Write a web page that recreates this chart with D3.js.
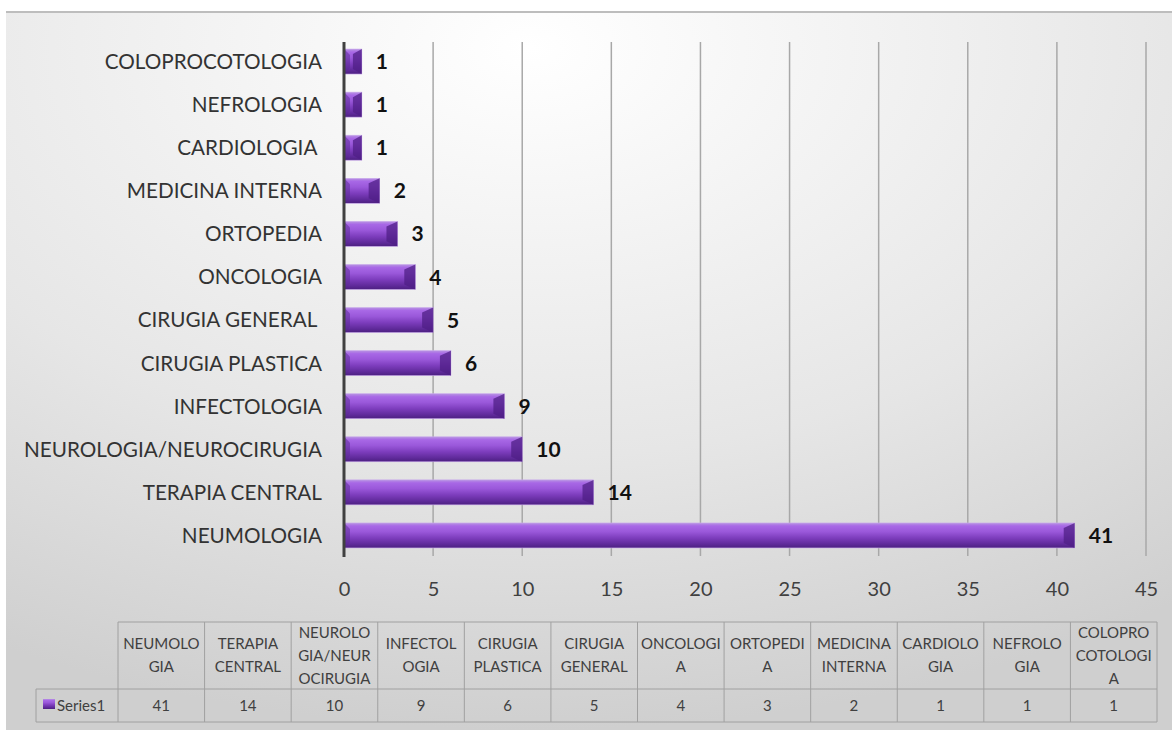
<!DOCTYPE html>
<html>
<head>
<meta charset="utf-8">
<script src="https://cdn.jsdelivr.net/npm/d3@7"></script>
<style>
  body { margin: 0; background: #fff; }
  svg text { font-family: Lato, "Open Sans", sans-serif; }
</style>
</head>
<body>
<script>
// data, in table order (bottom bar first)
var categories = ["NEUMOLOGIA", "TERAPIA CENTRAL", "NEUROLOGIA/NEUROCIRUGIA", "INFECTOLOGIA",
    "CIRUGIA PLASTICA", "CIRUGIA GENERAL ", "ONCOLOGIA", "ORTOPEDIA", "MEDICINA INTERNA",
    "CARDIOLOGIA ", "NEFROLOGIA", "COLOPROCOTOLOGIA"];
var values = [41, 14, 10, 9, 6, 5, 4, 3, 2, 1, 1, 1];
var xTicks = [0, 5, 10, 15, 20, 25, 30, 35, 40, 45];
var tableHeaders = [["NEUMOLO", "GIA"], ["TERAPIA", "CENTRAL"], ["NEUROLO", "GIA/NEUR", "OCIRUGIA"],
    ["INFECTOL", "OGIA"], ["CIRUGIA", "PLASTICA"], ["CIRUGIA", "GENERAL"], ["ONCOLOGI", "A"],
    ["ORTOPEDI", "A"], ["MEDICINA", "INTERNA"], ["CARDIOLO", "GIA"], ["NEFROLO", "GIA"],
    ["COLOPRO", "COTOLOGI", "A"]];
var seriesName = "Series1";

var w = 1172, h = 742;
var svg = d3.select("body").append("svg").attr("width", w).attr("height", h);
var defs = svg.append("defs");

var bg = defs.append("radialGradient").attr("id", "bg")
    .attr("cx", "0.45").attr("cy", "0.05").attr("r", "0.95");
bg.append("stop").attr("offset", "0%").attr("stop-color", "#ffffff");
bg.append("stop").attr("offset", "60%").attr("stop-color", "#e6e6e6");
bg.append("stop").attr("offset", "100%").attr("stop-color", "#cfcfcf");

var barGrad = defs.append("linearGradient").attr("id", "bar")
    .attr("x1", 0).attr("y1", 0).attr("x2", 0).attr("y2", 1);
[["0%", "#b894e2"], ["12%", "#a868e6"], ["35%", "#9a58da"], ["60%", "#7d3dbd"],
 ["85%", "#5f2a9a"], ["100%", "#4c2080"]].forEach(function (s) {
    barGrad.append("stop").attr("offset", s[0]).attr("stop-color", s[1]);
});

// chart area
svg.append("rect").attr("x", 6).attr("y", 12).attr("width", w - 6).attr("height", 718)
    .attr("fill", "url(#bg)");
svg.append("line").attr("x1", 6).attr("x2", w).attr("y1", 12).attr("y2", 12)
    .attr("stroke", "#bdbdbd").attr("stroke-width", 2);

var x = d3.scaleLinear().domain([0, 45]).range([344, 1146]);
var y = d3.scaleBand().domain(categories.slice().reverse()).range([40, 557])
    .paddingInner(0.42).paddingOuter(0.21);

// gridlines
svg.append("g").selectAll("line").data(xTicks.slice(1)).enter().append("line")
    .attr("x1", function (d) { return x(d); }).attr("x2", function (d) { return x(d); })
    .attr("y1", 42).attr("y2", 556)
    .attr("stroke", "#a8a8a8").attr("stroke-width", 1.5);

// x tick labels
var xAxis = svg.append("g").attr("transform", "translate(0,582)")
    .call(d3.axisBottom(x).tickValues(xTicks).tickSize(0).tickPadding(0));
xAxis.select(".domain").remove();
xAxis.selectAll("text").attr("font-size", 20).attr("fill", "#404040")
    .style("font-family", "Lato, sans-serif");

// category labels
svg.append("g").selectAll("text").data(categories).enter().append("text")
    .attr("x", 322).attr("y", function (d) { return y(d) + y.bandwidth() / 2; })
    .attr("dy", "0.36em").attr("text-anchor", "end")
    .attr("font-size", 20.7).attr("fill", "#333")
    .style("white-space", "pre")
    .text(function (d) { return d; });

// bars
var bars = svg.append("g").selectAll("g").data(values).enter().append("g");
bars.append("rect")
    .attr("x", x(0)).attr("y", function (d, i) { return y(categories[i]); })
    .attr("width", function (d) { return x(d) - x(0); })
    .attr("height", y.bandwidth())
    .attr("fill", "url(#bar)").attr("stroke", "#c9a8ec").attr("stroke-width", 0.6);
bars.append("polygon")
    .attr("points", function (d, i) {
        var y0 = y(categories[i]), y1 = y0 + y.bandwidth(), xe = x(d);
        var b = Math.min(11, (xe - x(0)) / 2);
        return [[xe - b, y0 + 5], [xe, y0], [xe, y1], [xe - b, y1 - 5]].join(" ");
    })
    .attr("fill", "#4f1f86").attr("opacity", 0.75);
bars.append("polygon")
    .attr("points", function (d, i) {
        var y0 = y(categories[i]), y1 = y0 + y.bandwidth(), xs = x(0);
        return [[xs, y0], [xs + 6, y0 + 6], [xs + 6, y1 - 6], [xs, y1]].join(" ");
    })
    .attr("fill", "#5a2a95").attr("opacity", 0.5);

// data labels
svg.append("g").selectAll("text").data(values).enter().append("text")
    .attr("x", function (d) { return x(d) + 14; })
    .attr("y", function (d, i) { return y(categories[i]) + y.bandwidth() / 2; })
    .attr("dy", "0.36em").attr("font-size", 21).attr("font-weight", "bold").attr("fill", "#111")
    .text(function (d) { return d; });

// axis line
svg.append("line").attr("x1", x(0)).attr("x2", x(0)).attr("y1", 42).attr("y2", 557)
    .attr("stroke", "#404040").attr("stroke-width", 3);

// data table
var colW = (1157 - 118) / 12, tTop = 622, tMid = 689, tBot = 722, legL = 36;
var col = function (i) { return 118 + i * colW; };
var tbl = svg.append("g").attr("stroke", "#a0a0a0").attr("stroke-width", 1);
tbl.append("line").attr("x1", col(0)).attr("x2", col(12)).attr("y1", tTop).attr("y2", tTop);
tbl.append("line").attr("x1", legL).attr("x2", col(12)).attr("y1", tMid).attr("y2", tMid);
tbl.append("line").attr("x1", legL).attr("x2", col(12)).attr("y1", tBot).attr("y2", tBot);
tbl.append("line").attr("x1", legL).attr("x2", legL).attr("y1", tMid).attr("y2", tBot);
d3.range(13).forEach(function (i) {
    tbl.append("line").attr("x1", col(i)).attr("x2", col(i)).attr("y1", tTop).attr("y2", tBot);
});

var hdr = svg.append("g").selectAll("text").data(tableHeaders).enter().append("text")
    .attr("text-anchor", "middle").attr("font-size", 15).attr("fill", "#404040")
    .attr("x", function (d, i) { return col(i) + colW / 2; });
hdr.each(function (lines, i) {
    var cy = (tTop + tMid) / 2 - (lines.length - 1) * 23 / 2;
    d3.select(this).selectAll("tspan").data(lines).enter().append("tspan")
        .attr("x", col(i) + colW / 2)
        .attr("y", function (l, j) { return cy + j * 23; })
        .attr("dy", "0.36em")
        .text(function (l) { return l; });
});

svg.append("g").selectAll("text").data(values).enter().append("text")
    .attr("text-anchor", "middle").attr("font-size", 15).attr("fill", "#404040")
    .attr("x", function (d, i) { return col(i) + colW / 2; })
    .attr("y", (tMid + tBot) / 2).attr("dy", "0.36em")
    .text(function (d) { return d; });

svg.append("rect").attr("x", 43).attr("y", 699).attr("width", 12).attr("height", 10)
    .attr("fill", "url(#bar)");
svg.append("text").attr("x", 57).attr("y", (tMid + tBot) / 2).attr("dy", "0.36em")
    .attr("font-size", 15).attr("fill", "#404040").text(seriesName);
</script>
</body>
</html>
